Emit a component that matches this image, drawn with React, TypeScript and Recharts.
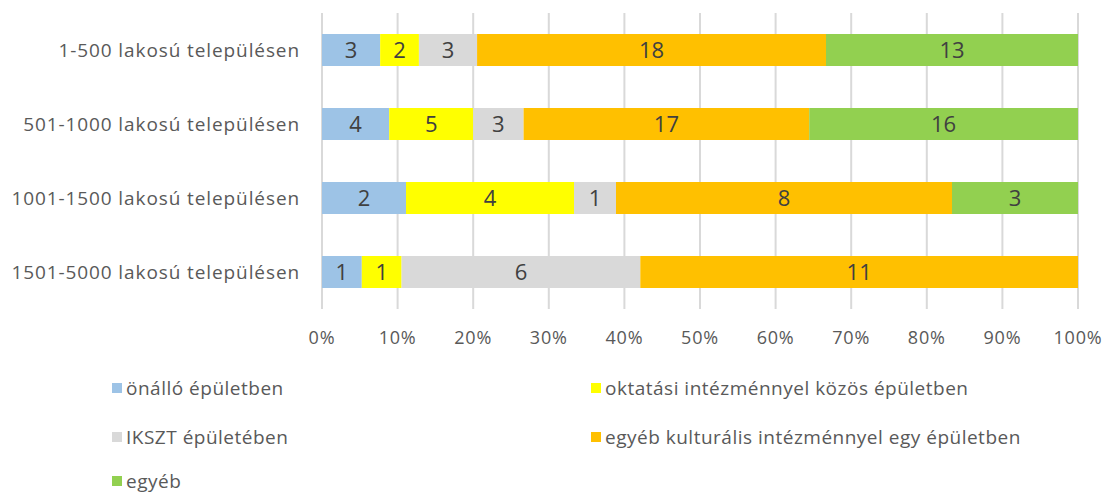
import React from 'react';
import { BarChart, Bar, XAxis, YAxis, CartesianGrid, LabelList, Legend } from 'recharts';

const categories = ['1-500 lakosú településen', '501-1000 lakosú településen', '1001-1500 lakosú településen', '1501-5000 lakosú településen'];
const seriesNames = ['önálló épületben', 'oktatási intézménnyel közös épületben', 'IKSZT épületében', 'egyéb kulturális intézménnyel egy épületben', 'egyéb'];
const seriesColors = ['#9DC3E6', '#FFFF00', '#D9D9D9', '#FFC000', '#92D050'];
const onallo = [3, 4, 2, 1];
const oktatasi = [2, 5, 4, 1];
const ikszt = [3, 3, 1, 6];
const kulturalis = [18, 17, 8, 11];
const egyeb = [13, 16, 3, 0];
const xTicks = [0, 0.1, 0.2, 0.3, 0.4, 0.5, 0.6, 0.7, 0.8, 0.9, 1];

const seriesValues = [onallo, oktatasi, ikszt, kulturalis, egyeb];
const keys = ['s0', 's1', 's2', 's3', 's4'];
const data = categories.map((c, i) => {
  const row: any = { name: c };
  seriesValues.forEach((vals, k) => { row[keys[k]] = vals[i]; });
  return row;
});

const FONT = '"Open Sans", "Noto Sans", sans-serif';

const LegendContent = () => {
  const pos = [
    { left: 112, top: 376 },
    { left: 591, top: 376 },
    { left: 112, top: 425 },
    { left: 591, top: 425 },
    { left: 112, top: 469 },
  ];
  return (
    <div style={{ position: 'relative', width: 1108, height: 0 }}>
      {seriesNames.map((n, i) => (
        <div key={n} style={{ position: 'absolute', left: pos[i].left, top: pos[i].top - 376, display: 'flex', alignItems: 'center', fontFamily: FONT, fontSize: 19, letterSpacing: 0.5, color: '#595959', whiteSpace: 'nowrap', lineHeight: '24px' }}>
          <span style={{ display: 'inline-block', width: 10, height: 10, background: seriesColors[i], marginRight: 4 }} />
          <span>{n}</span>
        </div>
      ))}
    </div>
  );
};

export default function App() {
  return (
    <div style={{ position: 'absolute', left: 0, top: 0, width: 1108, height: 494, background: '#fff' }}>
      <BarChart
        width={1108}
        height={494}
        data={data}
        layout="vertical"
        stackOffset="expand"
        barSize={32}
        margin={{ top: 13, right: 30, bottom: 145, left: 0 }}
      >
        <CartesianGrid horizontal={false} stroke="#D9D9D9" strokeWidth={2} />
        <XAxis
          type="number"
          domain={[0, 1]}
          ticks={xTicks}
          tickFormatter={(v: number) => `${Math.round(v * 100)}%`}
          axisLine={false}
          tickLine={false}
          tickMargin={16}
          height={40}
          interval={0}
          tick={{ fill: '#595959', fontSize: 18, fontFamily: FONT, letterSpacing: 0.8 }}
        />
        <YAxis
          type="category"
          dataKey="name"
          width={322}
          axisLine={false}
          tickLine={false}
          tickMargin={16}
          tick={{ fill: '#595959', fontSize: 19, fontFamily: FONT, letterSpacing: 0.9 }}
        />
        <Legend
          verticalAlign="top"
          align="left"
          content={<LegendContent />}
          wrapperStyle={{ position: 'absolute', left: 0, top: 376, width: 1108 }}
        />
        {keys.map((k, i) => (
          <Bar key={k} dataKey={k} name={seriesNames[i]} stackId="a" fill={seriesColors[i]} isAnimationActive={false}>
            <LabelList
              dataKey={k}
              position="center"
              formatter={(v: any) => (v ? v : '')}
              style={{ fill: '#404040', fontSize: 22, fontFamily: FONT }}
            />
          </Bar>
        ))}
      </BarChart>
    </div>
  );
}
